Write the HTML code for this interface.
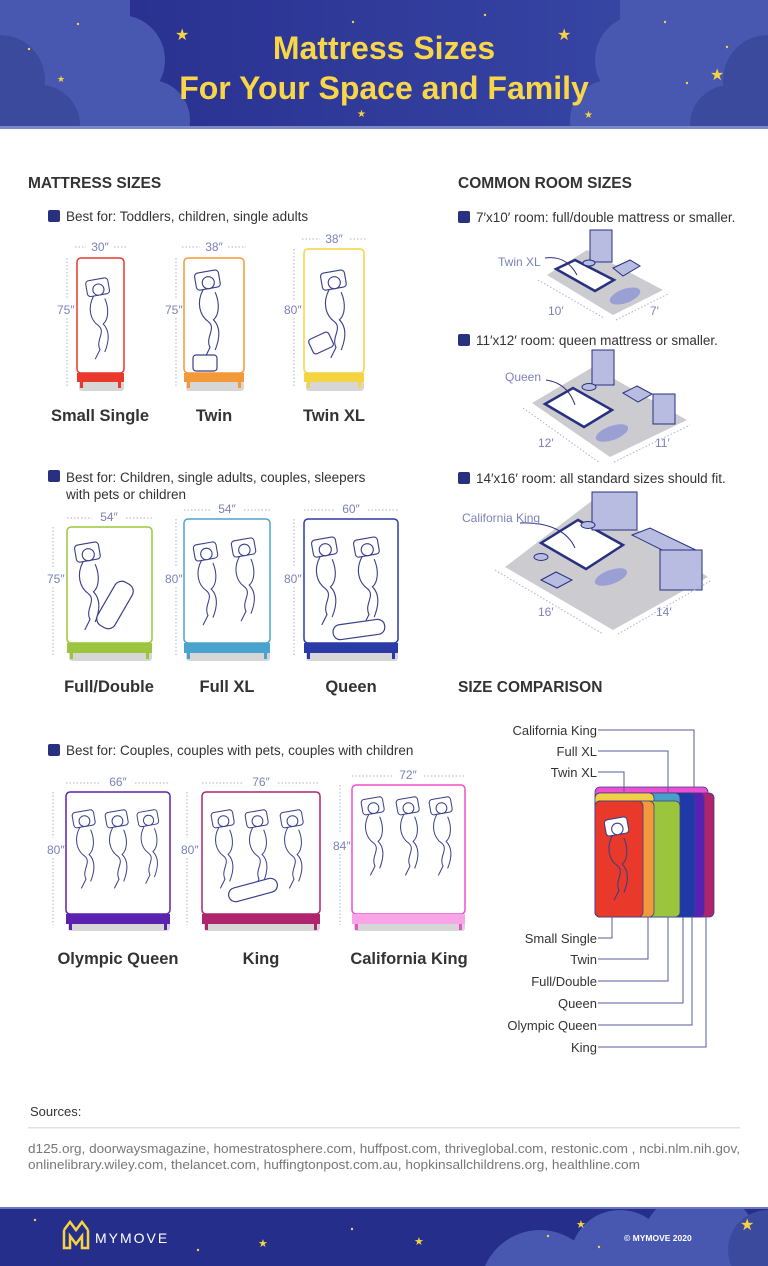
<!DOCTYPE html>
<html><head><meta charset="utf-8"><style>
html,body{margin:0;padding:0;background:#fff;overflow:hidden}
svg{display:block}
text{font-family:"Liberation Sans",sans-serif}
</style></head><body>
<svg width="768" height="1266" viewBox="0 0 768 1266" xmlns="http://www.w3.org/2000/svg">
<defs>
<linearGradient id="hg" x1="0" x2="1"><stop offset="0" stop-color="#262c8c"/><stop offset="1" stop-color="#3a4aa8"/></linearGradient>
<clipPath id="hc"><rect x="0" y="0" width="768" height="127"/></clipPath>
<clipPath id="fc"><rect x="0" y="1208" width="768" height="58"/></clipPath>
<symbol id="sl" viewBox="0 0 40 110">
<rect x="3" y="4" width="28" height="20" rx="4" fill="#fff" stroke="#3a3f8a" stroke-width="1.3" transform="rotate(-10 17 14)"/>
<circle cx="18" cy="17" r="7" fill="#fff" stroke="#3a3f8a" stroke-width="1.3"/>
<path d="M12 25 C4 40 8 55 18 62 C28 70 14 80 20 92 L14 104 M26 28 C32 42 30 55 24 60 C34 70 30 85 26 95" fill="none" stroke="#3a3f8a" stroke-width="1.3"/>
</symbol>
</defs>

<!-- HEADER -->
<g clip-path="url(#hc)">
<rect x="0" y="0" width="768" height="128" fill="url(#hg)"/>
<g fill="#4858b0">
<circle cx="20" cy="40" r="55"/><circle cx="60" cy="100" r="50"/><circle cx="120" cy="60" r="45"/><circle cx="150" cy="120" r="40"/><rect x="0" y="0" width="130" height="128"/>
<circle cx="750" cy="40" r="55"/><circle cx="700" cy="100" r="50"/><circle cx="640" cy="60" r="45"/><circle cx="610" cy="120" r="40"/><rect x="620" y="0" width="148" height="128"/>
</g>
<g fill="#3c4a9e"><circle cx="0" cy="80" r="45"/><circle cx="40" cy="125" r="40"/><circle cx="768" cy="80" r="45"/><circle cx="730" cy="125" r="40"/></g>
</g>
<rect x="0" y="126" width="768" height="3" fill="#7d88c9"/>
<g fill="#f5d342" font-size="16">
<text x="175" y="40">★</text><text x="557" y="40">★</text><text x="710" y="80">★</text><text x="57" y="82" font-size="9">★</text><text x="357" y="117" font-size="10">★</text><text x="584" y="118" font-size="10">★</text>
<circle cx="78" cy="24" r="1.2"/><circle cx="29" cy="49" r="1.2"/><circle cx="353" cy="22" r="1.2"/><circle cx="485" cy="15" r="1.2"/><circle cx="665" cy="22" r="1.2"/><circle cx="727" cy="47" r="1.2"/><circle cx="687" cy="83" r="1.2"/>
</g>
<g fill="#f9d648" font-weight="bold" font-size="32" text-anchor="middle">
<text x="384" y="59">Mattress Sizes</text>
<text x="384" y="99">For Your Space and Family</text>
</g>

<!-- Section titles -->
<g font-weight="bold" font-size="15.5" fill="#333">
<text x="28" y="188">MATTRESS SIZES</text>
<text x="458" y="188">COMMON ROOM SIZES</text>
<text x="458" y="692">SIZE COMPARISON</text>
</g>
<g fill="#283080">
<rect x="48" y="210" width="12" height="12" rx="2"/><rect x="48" y="470" width="12" height="12" rx="2"/><rect x="48" y="744" width="12" height="12" rx="2"/>
<rect x="458" y="211" width="12" height="12" rx="2"/><rect x="458" y="334" width="12" height="12" rx="2"/><rect x="458" y="472" width="12" height="12" rx="2"/>
</g>
<g font-size="13.5" fill="#333">
<text x="66" y="221">Best for: Toddlers, children, single adults</text>
<text x="66" y="482">Best for: Children, single adults, couples, sleepers</text>
<text x="66" y="499">with pets or children</text>
<text x="66" y="755">Best for: Couples, couples with pets, couples with children</text>
<text x="476" y="222">7′x10′ room: full/double mattress or smaller.</text>
<text x="476" y="345">11′x12′ room: queen mattress or smaller.</text>
<text x="476" y="483">14′x16′ room: all standard sizes should fit.</text>
</g>

<!-- MATTRESSES -->
<g stroke-width="1.5">
<rect x="79" y="381" width="45" height="10" rx="3" fill="#d6d6d6"/>
<rect x="77" y="258" width="47" height="115" rx="4" fill="#fff" stroke="#e8392a"/>
<rect x="77" y="373" width="47" height="9" fill="#e8392a"/><rect x="80" y="382" width="3" height="6" fill="#e8392a"/><rect x="118" y="382" width="3" height="6" fill="#e8392a"/>
<rect x="186" y="381" width="58" height="10" rx="3" fill="#d6d6d6"/>
<rect x="184" y="258" width="60" height="115" rx="4" fill="#fff" stroke="#f2993a"/>
<rect x="184" y="373" width="60" height="9" fill="#f2993a"/><rect x="187" y="382" width="3" height="6" fill="#f2993a"/><rect x="238" y="382" width="3" height="6" fill="#f2993a"/>
<rect x="306" y="381" width="58" height="10" rx="3" fill="#d6d6d6"/>
<rect x="304" y="249" width="60" height="124" rx="4" fill="#fff" stroke="#f5d442"/>
<rect x="304" y="373" width="60" height="9" fill="#f5d442"/><rect x="307" y="382" width="3" height="6" fill="#f5d442"/><rect x="358" y="382" width="3" height="6" fill="#f5d442"/>
<rect x="69" y="651" width="83" height="10" rx="3" fill="#d6d6d6"/>
<rect x="67" y="527" width="85" height="116" rx="4" fill="#fff" stroke="#9bc53d"/>
<rect x="67" y="643" width="85" height="10" fill="#9bc53d"/><rect x="70" y="653" width="3" height="6" fill="#9bc53d"/><rect x="146" y="653" width="3" height="6" fill="#9bc53d"/>
<rect x="186" y="651" width="84" height="10" rx="3" fill="#d6d6d6"/>
<rect x="184" y="519" width="86" height="124" rx="4" fill="#fff" stroke="#4aa3cf"/>
<rect x="184" y="643" width="86" height="10" fill="#4aa3cf"/><rect x="187" y="653" width="3" height="6" fill="#4aa3cf"/><rect x="264" y="653" width="3" height="6" fill="#4aa3cf"/>
<rect x="306" y="651" width="92" height="10" rx="3" fill="#d6d6d6"/>
<rect x="304" y="519" width="94" height="124" rx="4" fill="#fff" stroke="#2c3aa8"/>
<rect x="304" y="643" width="94" height="10" fill="#2c3aa8"/><rect x="307" y="653" width="3" height="6" fill="#2c3aa8"/><rect x="392" y="653" width="3" height="6" fill="#2c3aa8"/>
<rect x="68" y="921" width="102" height="10" rx="3" fill="#d6d6d6"/>
<rect x="66" y="792" width="104" height="122" rx="4" fill="#fff" stroke="#5b22b0"/>
<rect x="66" y="914" width="104" height="10" fill="#5b22b0"/><rect x="69" y="924" width="3" height="6" fill="#5b22b0"/><rect x="164" y="924" width="3" height="6" fill="#5b22b0"/>
<rect x="204" y="921" width="116" height="10" rx="3" fill="#d6d6d6"/>
<rect x="202" y="792" width="118" height="122" rx="4" fill="#fff" stroke="#b0246e"/>
<rect x="202" y="914" width="118" height="10" fill="#b0246e"/><rect x="205" y="924" width="3" height="6" fill="#b0246e"/><rect x="314" y="924" width="3" height="6" fill="#b0246e"/>
<rect x="354" y="921" width="111" height="10" rx="3" fill="#d6d6d6"/>
<rect x="352" y="785" width="113" height="129" rx="4" fill="#fff" stroke="#ee4fd0"/>
<rect x="352" y="914" width="113" height="10" fill="#f7a5e6"/><rect x="355" y="924" width="3" height="6" fill="#ee4fd0"/><rect x="459" y="924" width="3" height="6" fill="#ee4fd0"/>
</g>
<use href="#sl" x="84" y="275" width="32" height="90"/>
<use href="#sl" x="190" y="268" width="40" height="95"/>
<use href="#sl" x="316" y="268" width="40" height="95"/>
<use href="#sl" x="72" y="540" width="36" height="95"/>
<use href="#sl" x="190" y="540" width="36" height="90"/><use href="#sl" x="228" y="536" width="36" height="90"/>
<use href="#sl" x="308" y="535" width="38" height="95"/><use href="#sl" x="350" y="535" width="38" height="95"/>
<use href="#sl" x="70" y="808" width="32" height="85"/><use href="#sl" x="103" y="808" width="32" height="85"/><use href="#sl" x="135" y="808" width="30" height="80"/>
<use href="#sl" x="208" y="808" width="34" height="85"/><use href="#sl" x="242" y="808" width="34" height="85"/><use href="#sl" x="278" y="808" width="32" height="85"/>
<use href="#sl" x="358" y="795" width="34" height="85"/><use href="#sl" x="393" y="795" width="34" height="85"/><use href="#sl" x="426" y="795" width="34" height="85"/>
<g fill="#fff" stroke="#3a3f8a" stroke-width="1.2">
<rect x="193" y="355" width="24" height="16" rx="3"/><rect x="310" y="335" width="22" height="16" rx="3" transform="rotate(-25 321 343)"/>
<rect x="105" y="580" width="20" height="50" rx="8" transform="rotate(30 115 605)"/>
<rect x="333" y="622" width="52" height="15" rx="7" transform="rotate(-8 359 630)"/>
<rect x="228" y="883" width="50" height="14" rx="7" transform="rotate(-15 253 890)"/>
</g>
<g fill="#7b82b8" font-size="12">
<text x="100" y="251" text-anchor="middle">30″</text><text x="214" y="251" text-anchor="middle">38″</text><text x="334" y="243" text-anchor="middle">38″</text>
<text x="57" y="314">75″</text><text x="165" y="314">75″</text><text x="284" y="314">80″</text>
<text x="109" y="521" text-anchor="middle">54″</text><text x="227" y="513" text-anchor="middle">54″</text><text x="351" y="513" text-anchor="middle">60″</text>
<text x="47" y="583">75″</text><text x="165" y="583">80″</text><text x="284" y="583">80″</text>
<text x="118" y="786" text-anchor="middle">66″</text><text x="261" y="786" text-anchor="middle">76″</text><text x="408" y="779" text-anchor="middle">72″</text>
<text x="47" y="854">80″</text><text x="181" y="854">80″</text><text x="333" y="850">84″</text>
</g>
<g stroke="#aab0d0" stroke-dasharray="1.5 2" fill="none">
<path d="M75 247H86M114 247H126M182 247H200M228 247H246M302 239H320M350 239H366"/>
<path d="M67 258V300M67 318V386M176 258V300M176 318V386M294 249V300M294 318V386"/>
<path d="M67 518H92M126 518H152M184 510H210M244 510H270M304 510H334M368 510H398"/>
<path d="M53 527V568M53 587V655M176 519V568M176 587V655M294 519V568M294 587V655"/>
<path d="M66 783H101M135 783H170M202 783H244M278 783H320M352 776H392M424 776H465"/>
<path d="M53 792V838M53 858V925M187 792V838M187 858V925M340 785V834M340 854V925"/>
</g>
<g font-weight="bold" font-size="16.5" fill="#333" text-anchor="middle">
<text x="100" y="421">Small Single</text><text x="214" y="421">Twin</text><text x="334" y="421">Twin XL</text>
<text x="109" y="692">Full/Double</text><text x="227" y="692">Full XL</text><text x="351" y="692">Queen</text>
<text x="118" y="964">Olympic Queen</text><text x="261" y="964">King</text><text x="409" y="964">California King</text>
</g>

<!-- ROOMS -->
<g fill="#cbcbd0">
<polygon points="587,250 547,275 613,315 663,290"/>
<polygon points="593,367 532,403 610,457 687,420"/>
<polygon points="593,500 505,567 613,630 708,577"/>
</g>
<g fill="#9aa0d4"><ellipse cx="625" cy="296" rx="16" ry="7" transform="rotate(-20 625 296)"/><ellipse cx="612" cy="433" rx="17" ry="7" transform="rotate(-20 612 433)"/><ellipse cx="611" cy="577" rx="17" ry="7" transform="rotate(-20 611 577)"/></g>
<g fill="#fff" stroke="#283080" stroke-width="2.5">
<polygon points="556,269 575,260 614,280 595,291"/>
<polygon points="545,404 573,388 612,410 584,427"/>
<polygon points="541,543 578,520 623,545 586,569"/>
</g>
<g fill="#b8bce0" stroke="#283080" stroke-width="1">
<rect x="590" y="230" width="22" height="32"/><polygon points="613,268 630,260 640,266 623,276"/>
<rect x="592" y="350" width="22" height="35"/><polygon points="623,393 637,386 652,394 638,402"/><rect x="653" y="394" width="22" height="30"/>
<rect x="592" y="492" width="45" height="38"/><polygon points="632,535 650,528 700,552 682,560"/><rect x="660" y="550" width="42" height="40"/><polygon points="541,580 556,572 572,580 557,588"/>
<ellipse cx="589" cy="263" rx="6" ry="3"/><ellipse cx="589" cy="387" rx="7" ry="3.5"/><ellipse cx="588" cy="525" rx="7" ry="3.5"/><ellipse cx="541" cy="557" rx="7" ry="3.5"/>
</g>
<g stroke="#283080" fill="none"><path d="M545 258 C560 256 570 262 577 275M546 380 C560 382 570 390 575 405M520 523 C550 522 568 532 575 548"/></g>
<g stroke="#aab0d0" stroke-dasharray="1.5 2" fill="none"><path d="M538 280 L604 318M616 320 L668 294M523 408 L600 463M614 462 L690 425M495 570 L603 634M618 634 L712 580"/></g>
<g fill="#7b82b8" font-size="12">
<text x="498" y="266">Twin XL</text><text x="548" y="315">10′</text><text x="650" y="315">7′</text>
<text x="505" y="381">Queen</text><text x="538" y="447">12′</text><text x="655" y="447">11′</text>
<text x="462" y="522">California King</text><text x="538" y="616">16′</text><text x="656" y="616">14′</text>
</g>

<!-- SIZE COMPARISON -->
<g stroke="#3a3f8a" stroke-width="0.8">
<rect x="595" y="787" width="113" height="130" rx="5" fill="#ee4fd0"/>
<rect x="595" y="793" width="119" height="124" rx="5" fill="#b0246e"/>
<rect x="595" y="793" width="109" height="124" rx="5" fill="#5a1fb5"/>
<rect x="595" y="793" width="100" height="124" rx="5" fill="#1f3aa8"/>
<rect x="595" y="793" width="85" height="124" rx="5" fill="#4a9ec8"/>
<rect x="595" y="793" width="59" height="124" rx="5" fill="#f2d045"/>
<rect x="595" y="801" width="85" height="116" rx="5" fill="#9bc53d"/>
<rect x="595" y="801" width="59" height="116" rx="5" fill="#f2993a"/>
<rect x="595" y="801" width="48" height="116" rx="5" fill="#e8392a"/>
</g>
<use href="#sl" x="602" y="815" width="34" height="90"/>
<g stroke="#555b9a" fill="none" stroke-width="1">
<path d="M598 730H694V787M598 751H668V793M598 772H624V793"/>
<path d="M598 938H612V917M598 959H648V917M598 981H668V917M598 1003H683V917M598 1025H692V917M598 1047H706V917"/>
</g>
<g font-size="13" fill="#333" text-anchor="end">
<text x="597" y="735">California King</text><text x="597" y="756">Full XL</text><text x="597" y="777">Twin XL</text>
<text x="597" y="943">Small Single</text><text x="597" y="964">Twin</text><text x="597" y="986">Full/Double</text><text x="597" y="1008">Queen</text><text x="597" y="1030">Olympic Queen</text><text x="597" y="1052">King</text>
</g>

<!-- SOURCES -->
<text x="30" y="1116" font-size="13" fill="#333">Sources:</text>
<rect x="28" y="1127" width="712" height="1.5" fill="#e2e2e2"/>
<g font-size="12.6" fill="#777">
<text x="28" y="1153" textLength="712" lengthAdjust="spacingAndGlyphs">d125.org, doorwaysmagazine, homestratosphere.com, huffpost.com, thriveglobal.com, restonic.com , ncbi.nlm.nih.gov,</text>
<text x="28" y="1169" textLength="612" lengthAdjust="spacingAndGlyphs">onlinelibrary.wiley.com, thelancet.com, huffingtonpost.com.au, hopkinsallchildrens.org, healthline.com</text>
</g>

<!-- FOOTER -->
<g clip-path="url(#fc)">
<rect x="0" y="1208" width="768" height="58" fill="#252e8a"/>
<g fill="#4858b0"><circle cx="540" cy="1290" r="60"/><circle cx="620" cy="1260" r="50"/><circle cx="700" cy="1250" r="60"/><rect x="560" y="1240" width="208" height="26"/></g>
<g fill="#3c4a9e"><circle cx="768" cy="1250" r="40"/></g>
</g>
<rect x="0" y="1207" width="768" height="2" fill="#6d77c0"/>
<g fill="#f5d342" font-size="11"><text x="258" y="1247">★</text><text x="414" y="1245">★</text><text x="576" y="1228">★</text><text x="740" y="1230" font-size="16">★</text><circle cx="35" cy="1220" r="1.2"/><circle cx="198" cy="1250" r="1.2"/><circle cx="352" cy="1229" r="1.2"/><circle cx="548" cy="1236" r="1.2"/><circle cx="599" cy="1247" r="1.2"/></g>
<path d="M64 1230 L70 1222 L76 1230 L82 1222 L88 1230 M64 1230V1248H70V1236L76 1244L82 1236V1248H88V1230" fill="none" stroke="#f5d342" stroke-width="2.5"/>
<text x="95" y="1243" font-size="14" fill="#fff" letter-spacing="2">MYMOVE</text>
<text x="624" y="1241" font-size="8.5" font-weight="bold" fill="#fff">© MYMOVE 2020</text>
</svg>
</body></html>
